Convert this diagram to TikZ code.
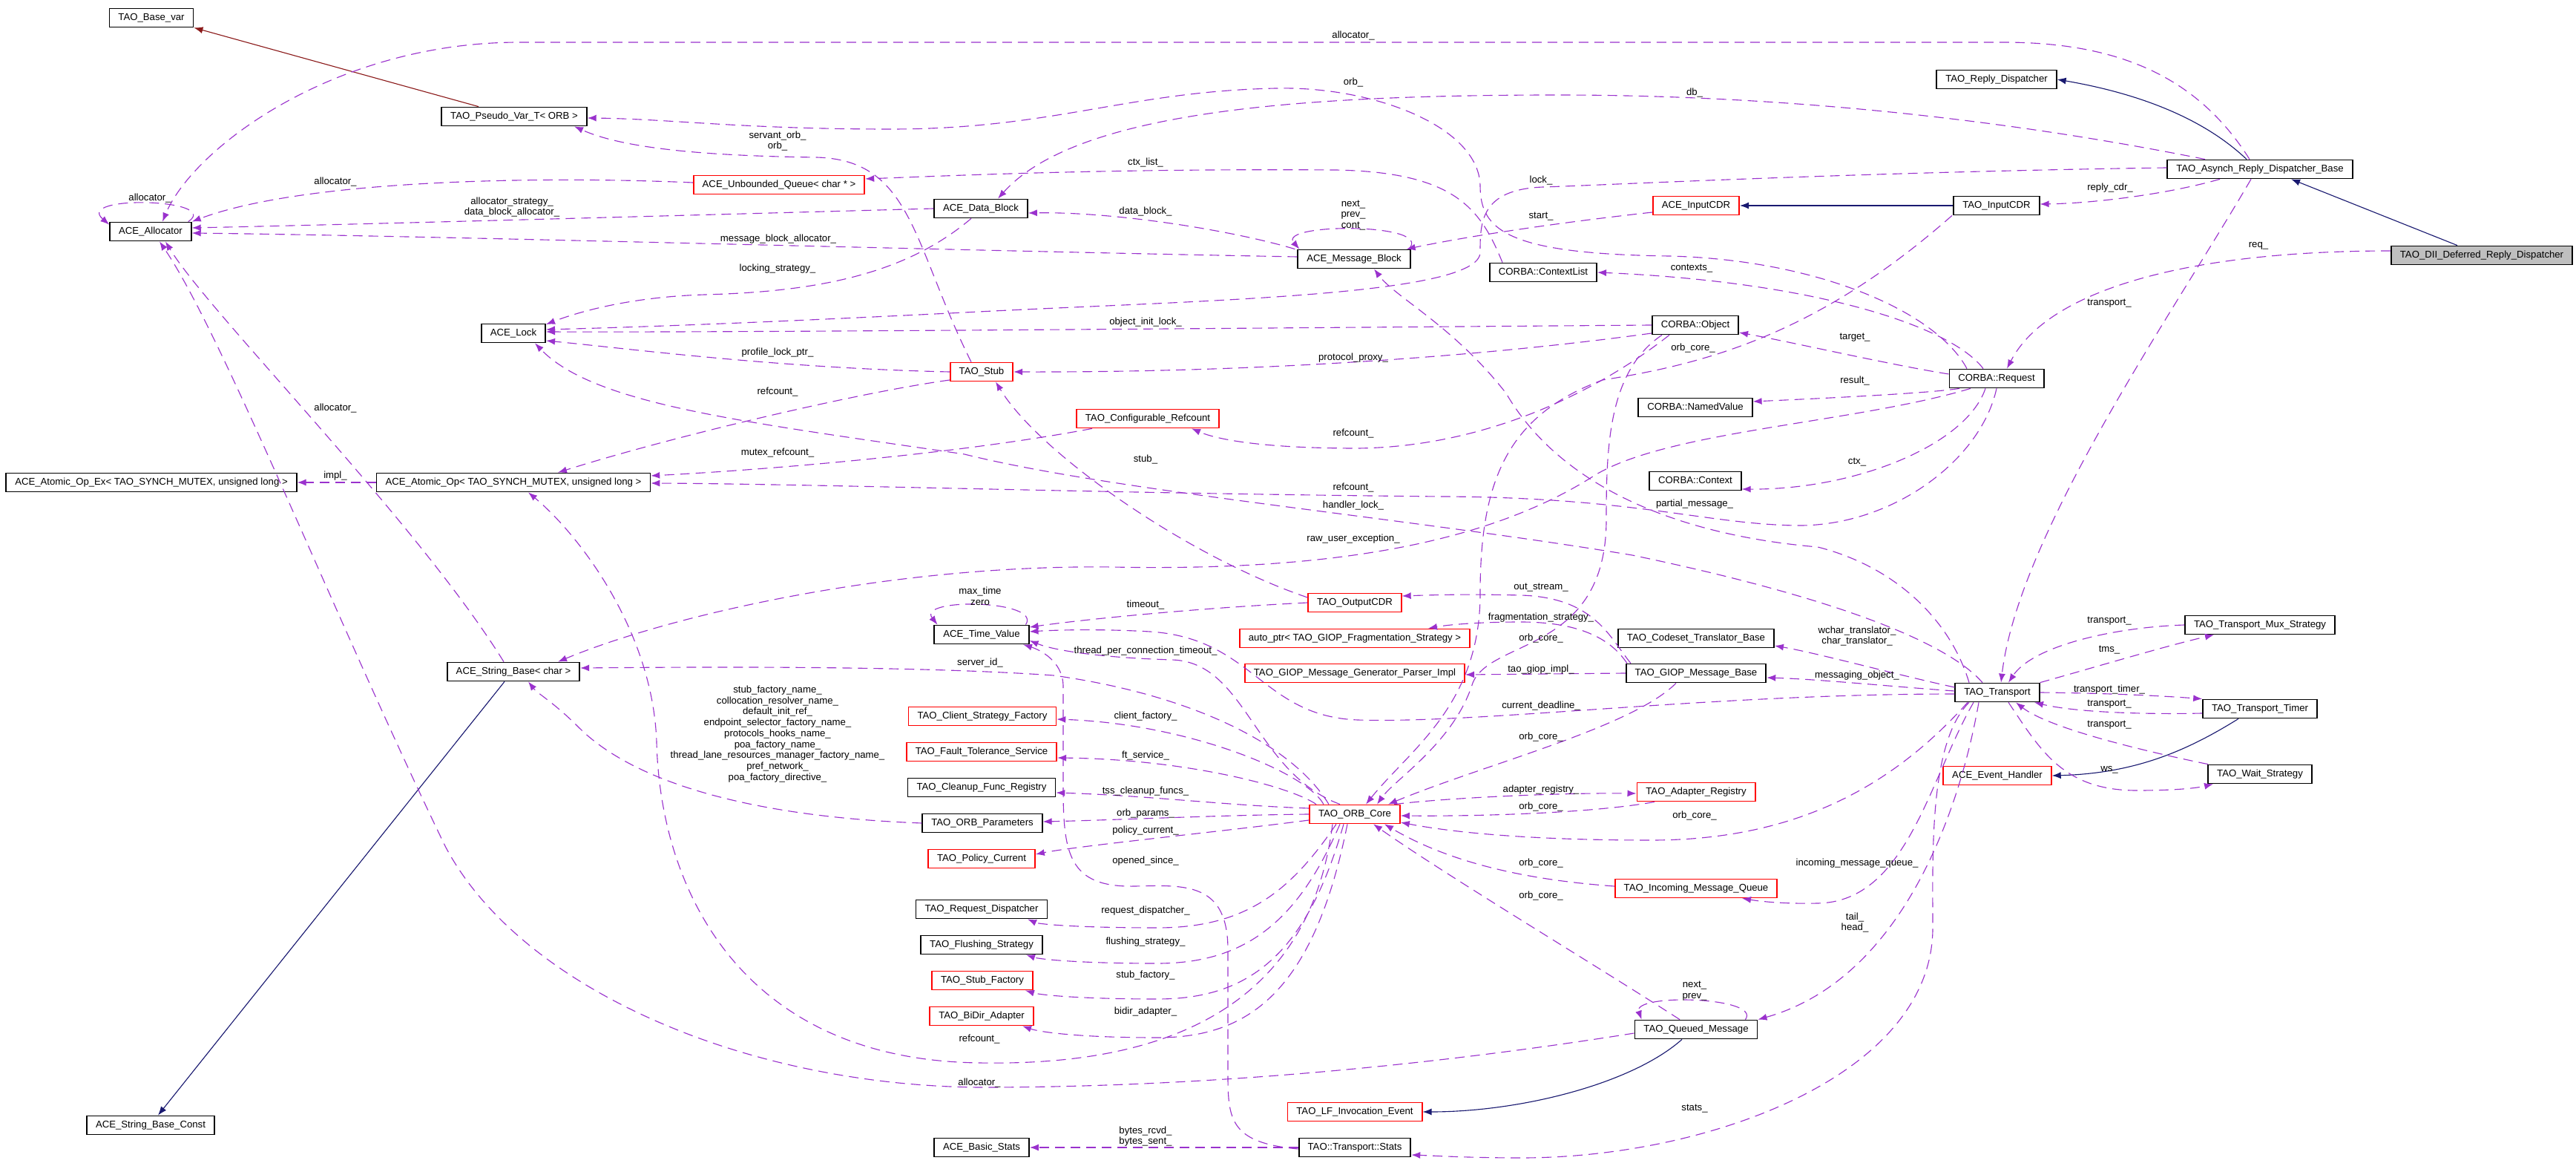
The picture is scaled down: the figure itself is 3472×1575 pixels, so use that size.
\documentclass[tikz,border=0pt]{standalone}
\usepackage{fontspec}
\setmainfont{Liberation Sans}
\usepackage{tikz}
\usetikzlibrary{arrows.meta}
\definecolor{edgepurple}{HTML}{9A32CD}
\definecolor{inhnavy}{HTML}{191970}
\definecolor{privred}{HTML}{8B1A1A}
\definecolor{diigray}{HTML}{BFBFBF}

\begin{document}
\begin{tikzpicture}[
  x=0.1mm, y=-0.1mm,
  cls/.style={draw, line width=0.5pt, fill=white,
    font=\fontsize{3.75}{4.2}\selectfont, inner xsep=1.2mm, inner ysep=0pt,
    text height=2.6pt, text depth=0.8pt, minimum height=2.5mm},
  trunc/.style={cls, draw=red},
  lbl/.style={font=\fontsize{3.75}{4.2}\selectfont, inner sep=0pt, align=center},
  mem/.style={draw=edgepurple, line width=0.32pt, dash pattern=on 1.3mm off 0.8mm,
    -{Latex[length=1.2mm, width=0.9mm]}},
  inh/.style={draw=inhnavy, line width=0.32pt, -{Latex[length=1.2mm, width=0.9mm]}},
  priv/.style={draw=privred, line width=0.32pt, -{Latex[length=1.2mm, width=0.9mm]}}
]
  \useasboundingbox (0,0) rectangle (3472,1575);

  % classes, column by column
  \node[cls] (basevar) at (204,24) {TAO\_Base\_var};
  \node[cls] (allocator) at (203,312) {ACE\_Allocator};
  \node[cls] (atomicex) at (204,650) {ACE\_Atomic\_Op\_Ex< TAO\_SYNCH\_MUTEX, unsigned long >};
  \node[cls] (strconst) at (203,1516) {ACE\_String\_Base\_Const};

  \node[cls] (pseudovar) at (693,157) {TAO\_Pseudo\_Var\_T< ORB >};
  \node[cls] (acelock) at (692,449) {ACE\_Lock};
  \node[cls] (atomicop) at (692,650) {ACE\_Atomic\_Op< TAO\_SYNCH\_MUTEX, unsigned long >};
  \node[cls] (strbase) at (692,905) {ACE\_String\_Base< char >};

  \node[trunc] (unbqueue) at (1050,249) {ACE\_Unbounded\_Queue< char * >};
  \node[cls] (datablock) at (1322,281) {ACE\_Data\_Block};
  \node[trunc] (stub) at (1323,501) {TAO\_Stub};
  \node[trunc] (cfgref) at (1547,564) {TAO\_Configurable\_Refcount};
  \node[cls] (timeval) at (1323,855) {ACE\_Time\_Value};
  \node[trunc] (clientfac) at (1324,965) {TAO\_Client\_Strategy\_Factory};
  \node[trunc] (ftservice) at (1323,1013) {TAO\_Fault\_Tolerance\_Service};
  \node[cls] (cleanup) at (1323,1061) {TAO\_Cleanup\_Func\_Registry};
  \node[cls] (orbparams) at (1324,1109) {TAO\_ORB\_Parameters};
  \node[trunc] (policycur) at (1323,1157) {TAO\_Policy\_Current};
  \node[cls] (reqdisp) at (1323,1225) {TAO\_Request\_Dispatcher};
  \node[cls] (flushing) at (1323,1273) {TAO\_Flushing\_Strategy};
  \node[trunc] (stubfac) at (1324,1321) {TAO\_Stub\_Factory};
  \node[trunc] (bidir) at (1323,1369) {TAO\_BiDir\_Adapter};
  \node[cls] (basicstats) at (1323,1546) {ACE\_Basic\_Stats};

  \node[cls] (msgblock) at (1825,349) {ACE\_Message\_Block};
  \node[trunc] (outcdr) at (1826,812) {TAO\_OutputCDR};
  \node[trunc] (fragptr) at (1826,860) {auto\_ptr< TAO\_GIOP\_Fragmentation\_Strategy >};
  \node[trunc] (genparser) at (1826,907) {TAO\_GIOP\_Message\_Generator\_Parser\_Impl};
  \node[trunc] (orbcore) at (1826,1097) {TAO\_ORB\_Core};
  \node[trunc] (lfevent) at (1826,1498) {TAO\_LF\_Invocation\_Event};
  \node[cls] (tstats) at (1826,1546) {TAO::Transport::Stats};

  \node[cls] (ctxlist) at (2080,367) {CORBA::ContextList};
  \node[trunc] (acecdr) at (2286,277) {ACE\_InputCDR};
  \node[cls] (corbaobj) at (2285,438) {CORBA::Object};
  \node[cls] (namedval) at (2285,549) {CORBA::NamedValue};
  \node[cls] (context) at (2285,648) {CORBA::Context};
  \node[cls] (codeset) at (2286,860) {TAO\_Codeset\_Translator\_Base};
  \node[cls] (giopbase) at (2286,907) {TAO\_GIOP\_Message\_Base};
  \node[trunc] (adapterreg) at (2286,1067) {TAO\_Adapter\_Registry};
  \node[trunc] (incomingq) at (2286,1197) {TAO\_Incoming\_Message\_Queue};
  \node[cls] (queuedmsg) at (2286,1387) {TAO\_Queued\_Message};

  \node[cls] (replydisp) at (2691,107) {TAO\_Reply\_Dispatcher};
  \node[cls] (taocdr) at (2691,277) {TAO\_InputCDR};
  \node[cls] (request) at (2691,510) {CORBA::Request};
  \node[cls] (transport) at (2692,933) {TAO\_Transport};
  \node[trunc] (evhandler) at (2692,1045) {ACE\_Event\_Handler};

  \node[cls] (asynchbase) at (3046,228) {TAO\_Asynch\_Reply\_Dispatcher\_Base};
  \node[cls] (muxstrat) at (3046,842) {TAO\_Transport\_Mux\_Strategy};
  \node[cls] (ttimer) at (3046,955) {TAO\_Transport\_Timer};
  \node[cls] (waitstrat) at (3046,1043) {TAO\_Wait\_Strategy};
  \node[cls, fill=diigray] (diidisp) at (3345,344) {TAO\_DII\_Deferred\_Reply\_Dispatcher};

  % inheritance
  \draw[priv] ([xshift=-4.8mm]pseudovar.north) -- (basevar.south east);
  \draw[inh] ([xshift=-3.3mm]diidisp.north) -- ([xshift=4.2mm]asynchbase.south);
  \draw[inh] ([xshift=-1.8mm]asynchbase.north) .. controls (2960,150) and (2860,122) .. (replydisp.east);
  \draw[inh] (taocdr.west) -- (acecdr.east);
  \draw[inh] ([xshift=-1.2mm]strbase.south) -- ([xshift=1mm]strconst.north);
  \draw[inh] ([xshift=-1.9mm]queuedmsg.south) .. controls (2200,1460) and (2050,1498) .. (lfevent.east);
  \draw[inh] ([xshift=-2.9mm]ttimer.south) .. controls (2950,1010) and (2880,1042) .. (evhandler.east);

  % members, top part
  \draw[mem] ([yshift=0.6mm]diidisp.west) .. controls (2950,338) and (2760,390) .. ([xshift=1.4mm]request.north);
  \draw[mem] ([xshift=-1.4mm]asynchbase.north) .. controls (2960,100) and (2850,57) .. (2700,57)
    -- (700,57) .. controls (450,57) and (260,200) .. ([xshift=1.6mm]allocator.north);
  \draw[mem] ([xshift=-4mm]request.north) .. controls (2610,420) and (2450,350) .. (2250,345)
    .. controls (2030,342) and (1995,310) .. (1995,250) .. controls (1993,170) and (1850,116) .. (1720,119)
    .. controls (1520,123) and (1420,174) .. (1200,174) .. controls (1000,174) and (900,160) .. ([yshift=-0.2mm]pseudovar.east);
  \draw[mem] ([xshift=-7.4mm]asynchbase.north) .. controls (2700,160) and (2400,128) .. (2100,128)
    .. controls (1750,128) and (1450,150) .. ([xshift=2.3mm]datablock.north);
  \draw[mem] ([xshift=-1.4mm]stub.north) .. controls (1230,330) and (1230,215) .. (1100,212)
    .. controls (950,210) and (840,200) .. ([xshift=8.1mm]pseudovar.south);
  \draw[mem] ([xshift=-5.5mm]ctxlist.north) .. controls (1995,280) and (1960,232) .. (1800,229)
    .. controls (1500,227) and (1300,236) .. ([yshift=0.8mm]unbqueue.east);
  \draw[mem] ([yshift=0.2mm]asynchbase.west) .. controls (2500,232) and (2150,250) .. (2080,252)
    .. controls (1995,255) and (1995,300) .. (1995,340) .. controls (1995,400) and (1600,405) .. (1300,421)
    .. controls (1000,436) and (850,441) .. ([yshift=0.5mm]acelock.east);
  \draw[mem] ([xshift=-5.4mm]asynchbase.south) .. controls (2920,262) and (2820,274) .. ([yshift=0.2mm]taocdr.east);
  \draw[mem] ([xshift=-1.2mm]asynchbase.south) .. controls (2930,420) and (2720,720) .. ([xshift=0.5mm]transport.north);
  \draw[mem] ([yshift=0.3mm]unbqueue.west) .. controls (700,236) and (400,245) .. (allocator.north east);
  \draw[mem] (datablock.west) .. controls (1000,288) and (500,302) .. ([yshift=0.5mm]allocator.east);
  \draw[mem] ([yshift=0.3mm]msgblock.west) .. controls (1300,338) and (600,318) .. ([yshift=-0.2mm]allocator.east);
  \draw[mem] ([xshift=-0.5mm]allocator.north east) .. controls (300,268) and (100,262) .. ([yshift=-0.4mm]allocator.north west);
  \draw[mem] ([xshift=-0.3mm]msgblock.north east) .. controls (1935,300) and (1720,300) .. ([xshift=0.3mm]msgblock.north west);
  \draw[mem] ([xshift=-0.3mm]msgblock.north west) .. controls (1660,310) and (1500,285) .. ([yshift=-0.6mm]datablock.east);
  \draw[mem] ([yshift=-0.9mm]acecdr.west) .. controls (2100,300) and (1980,318) .. ([xshift=-0.6mm]msgblock.north east);
  \draw[mem] ([xshift=-1.3mm]datablock.south) .. controls (1220,370) and (1100,393) .. (950,397)
    .. controls (850,400) and (780,420) .. ([yshift=1.2mm]acelock.east);
  \draw[mem] (corbaobj.west) .. controls (1700,442) and (1000,448) .. ([yshift=0.2mm]acelock.east);
  \draw[mem] ([yshift=0.6mm]request.west) .. controls (2550,492) and (2420,462) .. ([yshift=-1mm]corbaobj.east);
  \draw[mem] ([xshift=-1.8mm]request.north) .. controls (2630,440) and (2450,380) .. (ctxlist.east);
  \draw[mem] ([xshift=-5mm]request.south) .. controls (2600,530) and (2450,537) .. ([yshift=0.8mm]namedval.east);
  \draw[mem] ([xshift=-1.5mm]request.south) .. controls (2650,600) and (2500,660) .. ([yshift=-1.1mm]context.east);
  \draw[mem] ([xshift=-6mm]taocdr.south) .. controls (2450,450) and (2300,490) .. (2160,512)
    .. controls (2030,560) and (1995,650) .. (1995,800) .. controls (1995,950) and (1900,1010) .. ([xshift=1.5mm]orbcore.north);
  \draw[mem] ([yshift=-1.1mm]corbaobj.west) .. controls (2000,480) and (1700,502) .. (stub.east);
  \draw[mem] ([xshift=-4.5mm]corbaobj.south) .. controls (2168,500) and (2165,600) .. (2165,700)
    .. controls (2165,880) and (2010,860) .. (1985,920) .. controls (1960,1000) and (1880,1050) .. ([xshift=3mm]orbcore.north);
  \draw[mem] ([xshift=-3.5mm]corbaobj.south) .. controls (2150,530) and (2000,602) .. (1830,604)
    .. controls (1700,604) and (1640,592) .. ([xshift=5.9mm]cfgref.south);
  \draw[mem] ([xshift=-3.5mm]request.south) .. controls (2500,570) and (2250,580) .. (2150,640)
    .. controls (2010,730) and (1800,770) .. (1500,764) .. controls (1200,760) and (900,830) .. ([xshift=6mm]strbase.north);
  \draw[mem] (request.south) .. controls (2670,620) and (2550,710) .. (2420,708)
    .. controls (2300,706) and (2200,670) .. (1944,669) .. controls (1500,665) and (1100,652) .. ([yshift=-0.1mm]atomicop.east);
  \draw[mem] ([xshift=-7.5mm]cfgref.south) .. controls (1300,610) and (1050,632) .. ([yshift=0.9mm]atomicop.east);
  \draw[mem] ([yshift=-1.1mm]stub.west) .. controls (1150,530) and (900,590) .. ([xshift=6mm]atomicop.north);
  \draw[mem] (stub.west) .. controls (1050,496) and (850,470) .. ([yshift=-1mm]acelock.east);
  \draw[mem] ([xshift=-2mm]transport.north) .. controls (2620,860) and (2450,800) .. (2200,748)
    .. controls (1900,698) and (1500,662) .. (1300,612) .. controls (1000,568) and (800,545) .. ([xshift=2.9mm]acelock.south);
  \draw[mem] ([xshift=-3.8mm]transport.north) .. controls (2630,840) and (2560,765) .. (2450,737)
    .. controls (2250,720) and (2100,650) .. (2030,530) .. controls (1960,440) and (1880,400) .. ([xshift=2.7mm]msgblock.south);
  \draw[mem] ([xshift=-1.3mm]strbase.north) .. controls (560,700) and (280,420) .. ([xshift=2mm]allocator.south);
  \draw[mem] (atomicop.west) -- (atomicex.east);

  % members, middle part
  \draw[mem] ([yshift=0.7mm]outcdr.west) .. controls (1600,750) and (1400,610) .. ([xshift=1.9mm]stub.south);
  \draw[mem] (outcdr.west) .. controls (1600,820) and (1450,836) .. ([yshift=1mm]timeval.east);
  \draw[mem] ([xshift=-0.5mm]timeval.north east) .. controls (1405,808) and (1235,805) .. ([xshift=0.5mm]timeval.north west);
  \draw[mem] ([xshift=-2mm]orbcore.north) .. controls (1690,1040) and (1680,892) .. (1580,889)
    .. controls (1480,886) and (1420,876) .. ([yshift=-0.8mm]timeval.east);
  \draw[mem] ([yshift=-0.2mm]transport.west) .. controls (2300,935) and (2000,975) .. (1830,970)
    .. controls (1700,965) and (1690,860) .. (1550,851) .. controls (1480,847) and (1420,849) .. ([yshift=0.4mm]timeval.east);
  \draw[mem] ([yshift=-0.2mm]tstats.west) .. controls (1660,1540) and (1655,1510) .. (1655,1450) -- (1655,1280)
    .. controls (1655,1190) and (1600,1192) .. (1530,1194) .. controls (1440,1196) and (1433,1150) .. (1433,1060)
    -- (1433,925) .. controls (1433,890) and (1400,875) .. ([xshift=5.6mm]timeval.south);
  \draw[mem] ([xshift=-3.5mm]orbcore.north) .. controls (1740,1000) and (1600,935) .. (1420,910)
    .. controls (1250,898) and (1000,898) .. ([yshift=0.5mm]strbase.east);
  \draw[mem] (orbparams.west) .. controls (1000,1100) and (850,1050) .. (780,980)
    .. controls (745,945) and (725,935) .. ([xshift=2mm]strbase.south);
  \draw[mem] ([xshift=-4.2mm]orbcore.north) .. controls (1760,1040) and (1600,975) .. ([yshift=-0.4mm]clientfac.east);
  \draw[mem] ([xshift=-5.2mm]orbcore.north) .. controls (1740,1060) and (1600,1023) .. ([yshift=-0.8mm]ftservice.east);
  \draw[mem] ([yshift=0.8mm]orbcore.west) .. controls (1650,1085) and (1550,1072) .. ([yshift=-0.7mm]cleanup.east);
  \draw[mem] (orbcore.west) .. controls (1650,1098) and (1500,1105) .. ([yshift=0.2mm]orbparams.east);
  \draw[mem] ([yshift=-0.8mm]orbcore.west) .. controls (1650,1120) and (1450,1140) .. ([yshift=0.6mm]policycur.east);
  \draw[mem] ([xshift=-2.5mm]orbcore.south) .. controls (1740,1200) and (1680,1250) .. (1560,1250)
    .. controls (1450,1250) and (1400,1245) .. ([xshift=6.2mm]reqdisp.south);
  \draw[mem] ([xshift=-2mm]orbcore.south) .. controls (1750,1240) and (1680,1298) .. (1560,1298)
    .. controls (1450,1298) and (1400,1292) .. ([xshift=6mm]flushing.south);
  \draw[mem] ([xshift=-1.5mm]orbcore.south) .. controls (1760,1290) and (1680,1346) .. (1560,1346)
    .. controls (1450,1346) and (1400,1340) .. ([xshift=5.8mm]stubfac.south);
  \draw[mem] ([xshift=-1mm]orbcore.south) .. controls (1770,1340) and (1680,1398) .. (1560,1398)
    .. controls (1450,1398) and (1400,1390) .. ([xshift=5.5mm]bidir.south);
  \draw[mem] ([xshift=-3mm]orbcore.south) .. controls (1760,1400) and (1500,1435) .. (1320,1432)
    .. controls (1000,1428) and (890,1200) .. (885,1000) .. controls (880,850) and (780,720) .. ([xshift=2mm]atomicop.south);
  \draw[mem] ([yshift=-0.5mm]queuedmsg.west) .. controls (1900,1440) and (1600,1465) .. (1320,1465)
    .. controls (1000,1462) and (700,1330) .. (600,1140) .. controls (450,830) and (300,450) .. ([xshift=1.2mm]allocator.south);

  % members, right part
  \draw[mem] ([xshift=5.3mm]orbcore.north) .. controls (1950,1075) and (2100,1068) .. ([yshift=-0.2mm]adapterreg.west);
  \draw[mem] ([xshift=-5.6mm]adapterreg.south) .. controls (2150,1095) and (2000,1100) .. ([yshift=-0.2mm]orbcore.east);
  \draw[mem] ([xshift=-4mm]transport.south) .. controls (2550,1060) and (2420,1132) .. (2225,1132)
    .. controls (2050,1132) and (1950,1120) .. ([yshift=-1.1mm]orbcore.east);
  \draw[mem] ([yshift=0.3mm]incomingq.west) .. controls (2050,1185) and (1950,1160) .. ([xshift=4mm]orbcore.south);
  \draw[mem] ([xshift=-2.2mm]queuedmsg.north) .. controls (2150,1300) and (1950,1180) .. ([xshift=2.5mm]orbcore.south);
  \draw[mem] ([xshift=-1.7mm]queuedmsg.north east) .. controls (2375,1343) and (2200,1338) .. ([xshift=1mm]queuedmsg.north west);
  \draw[mem] ([xshift=-2.5mm]transport.south) .. controls (2640,1100) and (2560,1320) .. (queuedmsg.north east);
  \draw[mem] ([xshift=-3.2mm]transport.south) .. controls (2600,1050) and (2570,1215) .. (2450,1217)
    .. controls (2400,1218) and (2370,1214) .. ([xshift=6.2mm]incomingq.south);
  \draw[mem] ([xshift=-3.8mm]transport.south) .. controls (2600,1000) and (2605,1150) .. (2605,1250)
    .. controls (2605,1450) and (2300,1560) .. (2050,1560) .. controls (1980,1560) and (1930,1557) .. ([yshift=-1mm]tstats.east);
  \draw[mem] (tstats.west) -- (basicstats.east);
  \draw[mem] ([yshift=0.7mm]transport.west) .. controls (2560,910) and (2450,880) .. ([yshift=-1mm]codeset.east);
  \draw[mem] ([yshift=0.2mm]transport.west) .. controls (2550,925) and (2450,915) .. ([yshift=-0.6mm]giopbase.east);
  \draw[mem] (giopbase.west) -- ([yshift=-0.2mm]genparser.east);
  \draw[mem] ([xshift=-8.8mm]giopbase.north) .. controls (2170,860) and (2150,805) .. (2050,802)
    .. controls (1970,800) and (1920,802) .. ([yshift=0.9mm]outcdr.east);
  \draw[mem] ([xshift=-9.3mm]giopbase.north) .. controls (2180,875) and (2150,838) .. (2050,838)
    .. controls (1990,838) and (1950,842) .. ([xshift=9.9mm]fragptr.north);
  \draw[mem] ([xshift=-2.7mm]giopbase.south) .. controls (2200,980) and (2000,1030) .. ([xshift=4.5mm]orbcore.north);
  \draw[mem] (muxstrat.west) .. controls (2850,845) and (2740,870) .. ([xshift=1.5mm]transport.north);
  \draw[mem] (transport.north east) .. controls (2820,900) and (2920,870) .. ([xshift=-6.2mm]muxstrat.south);
  \draw[mem] (transport.east) .. controls (2850,934) and (2920,938) .. (ttimer.north west);
  \draw[mem] ([yshift=-0.6mm]ttimer.west) .. controls (2870,963) and (2790,958) .. ([xshift=5mm]transport.south);
  \draw[mem] ([xshift=-7mm]waitstrat.north) .. controls (2880,1010) and (2760,980) .. ([xshift=2.5mm]transport.south);
  \draw[mem] ([xshift=1.5mm]transport.south) .. controls (2750,1010) and (2780,1065) .. (2880,1065)
    .. controls (2930,1065) and (2960,1062) .. ([xshift=-6.3mm]waitstrat.south);

  % edge labels
  \node[lbl] (l-req) at (3044,331) {req\_};
  \node[lbl] (l-alloc-top) at (1824,48) {allocator\_};
  \node[lbl] (l-orb) at (1824,111) {orb\_};
  \node[lbl] (l-db) at (2284,125) {db\_};
  \node[lbl] (l-stuborb) at (1048,190) {servant\_orb\_\\orb\_};
  \node[lbl] (l-ctxlist) at (1544,219) {ctx\_list\_};
  \node[lbl] (l-lock) at (2077,243) {lock\_};
  \node[lbl] (l-replycdr) at (2844,253) {reply\_cdr\_};
  \node[lbl] (l-alloc-queue) at (452,245) {allocator\_};
  \node[lbl] (l-alloc-self) at (202,267) {allocator\_};
  \node[lbl] (l-alloc-db) at (690,279) {allocator\_strategy\_\\data\_block\_allocator\_};
  \node[lbl] (l-datablock) at (1544,285) {data\_block\_};
  \node[lbl] (l-mbself) at (1824,290) {next\_\\prev\_\\cont\_};
  \node[lbl] (l-start) at (2077,292) {start\_};
  \node[lbl] (l-mballoc) at (1049,322) {message\_block\_allocator\_};
  \node[lbl] (l-contexts) at (2280,362) {contexts\_};
  \node[lbl] (l-locking) at (1048,362) {locking\_strategy\_};
  \node[lbl] (l-asynchtr) at (2843,409) {transport\_};
  \node[lbl] (l-objlock) at (1544,434) {object\_init\_lock\_};
  \node[lbl] (l-target) at (2500,455) {target\_};
  \node[lbl] (l-cdrcore) at (2282,469) {orb\_core\_};
  \node[lbl] (l-proflock) at (1048,475) {profile\_lock\_ptr\_};
  \node[lbl] (l-proxy) at (1824,482) {protocol\_proxy\_};
  \node[lbl] (l-result) at (2500,513) {result\_};
  \node[lbl] (l-stubref) at (1048,528) {refcount\_};
  \node[lbl] (l-objref) at (1824,584) {refcount\_};
  \node[lbl] (l-mutexref) at (1048,610) {mutex\_refcount\_};
  \node[lbl] (l-stub) at (1544,619) {stub\_};
  \node[lbl] (l-ctx) at (2503,623) {ctx\_};
  \node[lbl] (l-impl) at (452,641) {impl\_};
  \node[lbl] (l-reqref) at (1824,657) {refcount\_};
  \node[lbl] (l-hlock) at (1824,681) {handler\_lock\_};
  \node[lbl] (l-partial) at (2284,679) {partial\_message\_};
  \node[lbl] (l-rawexc) at (1824,726) {raw\_user\_exception\_};
  \node[lbl] (l-tvself) at (1321,803) {max\_time\\zero};
  \node[lbl] (l-outstream) at (2077,792) {out\_stream\_};
  \node[lbl] (l-timeout) at (1544,815) {timeout\_};
  \node[lbl] (l-frag) at (2077,832) {fragmentation\_strategy\_};
  \node[lbl] (l-muxtr) at (2843,837) {transport\_};
  \node[lbl] (l-transl) at (2503,857) {wchar\_translator\_\\char\_translator\_};
  \node[lbl] (l-objcore) at (2077,860) {orb\_core\_};
  \node[lbl] (l-tms) at (2843,876) {tms\_};
  \node[lbl] (l-tpct) at (1544,877) {thread\_per\_connection\_timeout\_};
  \node[lbl] (l-serverid) at (1321,893) {server\_id\_};
  \node[lbl] (l-giopimpl) at (2077,902) {tao\_giop\_impl\_};
  \node[lbl] (l-msgobj) at (2503,910) {messaging\_object\_};
  \node[lbl] (l-ttimer) at (2843,929) {transport\_timer\_};
  \node[lbl] (l-timertr) at (2843,949) {transport\_};
  \node[lbl] (l-deadline) at (2077,951) {current\_deadline\_};
  \node[lbl] (l-clientfac) at (1544,965) {client\_factory\_};
  \node[lbl] (l-waittr) at (2843,977) {transport\_};
  \node[lbl] (l-params) at (1048,989) {stub\_factory\_name\_\\collocation\_resolver\_name\_\\default\_init\_ref\_\\endpoint\_selector\_factory\_name\_\\protocols\_hooks\_name\_\\poa\_factory\_name\_\\thread\_lane\_resources\_manager\_factory\_name\_\\pref\_network\_\\poa\_factory\_directive\_};
  \node[lbl] (l-giopcore) at (2077,993) {orb\_core\_};
  \node[lbl] (l-ft) at (1544,1018) {ft\_service\_};
  \node[lbl] (l-ws) at (2843,1037) {ws\_};
  \node[lbl] (l-adapter) at (2077,1064) {adapter\_registry\_};
  \node[lbl] (l-tss) at (1544,1066) {tss\_cleanup\_funcs\_};
  \node[lbl] (l-regcore) at (2077,1087) {orb\_core\_};
  \node[lbl] (l-orbparams) at (1544,1096) {orb\_params\_};
  \node[lbl] (l-trcore) at (2284,1099) {orb\_core\_};
  \node[lbl] (l-policy) at (1544,1119) {policy\_current\_};
  \node[lbl] (l-opened) at (1544,1160) {opened\_since\_};
  \node[lbl] (l-imqcore) at (2077,1163) {orb\_core\_};
  \node[lbl] (l-imq) at (2503,1163) {incoming\_message\_queue\_};
  \node[lbl] (l-qmcore) at (2077,1207) {orb\_core\_};
  \node[lbl] (l-reqdisp) at (1544,1227) {request\_dispatcher\_};
  \node[lbl] (l-tailhead) at (2500,1243) {tail\_\\head\_};
  \node[lbl] (l-flush) at (1544,1269) {flushing\_strategy\_};
  \node[lbl] (l-stubfac) at (1544,1314) {stub\_factory\_};
  \node[lbl] (l-qmself) at (2284,1335) {next\_\\prev\_};
  \node[lbl] (l-bidir) at (1544,1363) {bidir\_adapter\_};
  \node[lbl] (l-coreref) at (1320,1400) {refcount\_};
  \node[lbl] (l-qmalloc) at (1320,1459) {allocator\_};
  \node[lbl] (l-stats) at (2284,1494) {stats\_};
  \node[lbl] (l-bytes) at (1544,1531) {bytes\_rcvd\_\\bytes\_sent\_};
  \node[lbl] (l-stralloc) at (452,550) {allocator\_};
\end{tikzpicture}
\end{document}
